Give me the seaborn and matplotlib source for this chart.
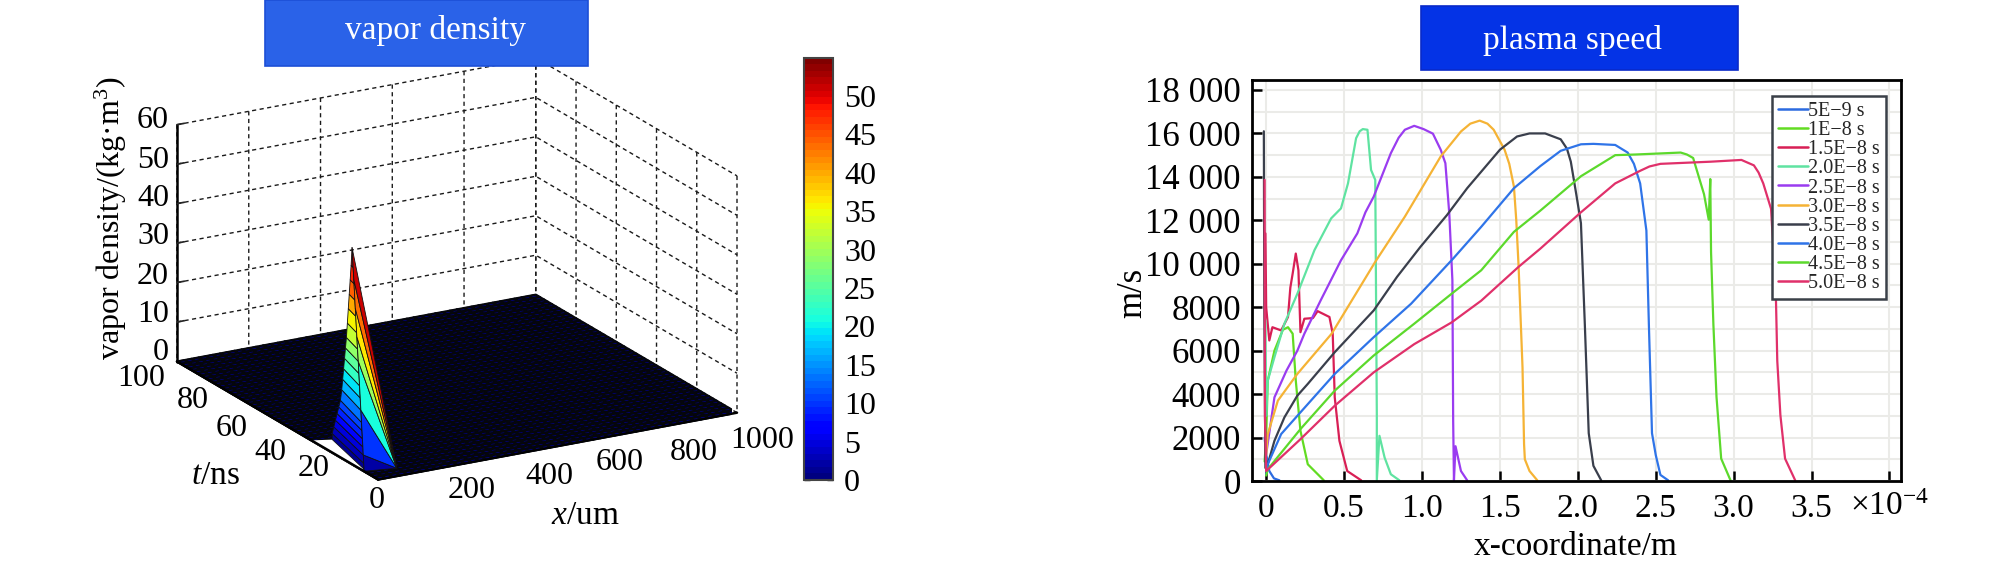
import numpy as np
import pandas as pd
import matplotlib
matplotlib.use('Agg')
import matplotlib.pyplot as plt
import seaborn as sns
from matplotlib.cm import ScalarMappable
from matplotlib.colors import Normalize
from matplotlib.patches import Rectangle
from mpl_toolkits.mplot3d import proj3d
from mpl_toolkits.mplot3d.art3d import Poly3DCollection

W, H = 2008, 566

# left panel: vapor density surface
x_nodes = np.arange(0, 1001, 20)
t_nodes = np.arange(0, 100.1, 2)
x_ticks = [0, 200, 400, 600, 800, 1000]
t_ticks = [0, 20, 40, 60, 80, 100]
z_ticks = [0, 10, 20, 30, 40, 50, 60]
cbar_ticks = [0, 5, 10, 15, 20, 25, 30, 35, 40, 45, 50]

x_tick_labels = ['0', '200', '400', '600', '800', '1000']
t_tick_labels = ['20', '40', '60', '80', '100']
z_tick_labels = ['0', '10', '20', '30', '40', '50', '60']
# where the reference puts those labels, in pixels
x_label_px = [(377, 501), (472, 491), (549, 476), (620, 462), (694, 453), (762, 441)]
t_label_px = [(314, 469), (270, 453), (232, 428), (193, 401), (141, 378)]
z_label_py = [352.5, 315, 277, 237, 198, 160, 120.5]

# left flank of the peak, ridge going up
left_z = [54.9, 50, 46, 42, 38, 34, 30, 27, 24, 21, 18, 15, 12, 10, 8, 6, 4, 2, 0.5]
left_back_t = [13, 14, 15, 16, 17, 18, 19, 20, 21, 22, 23, 24, 25, 26, 27, 28, 29, 30, 30]
left_back_x = [0, 3, 6, 9, 12, 15, 18, 21, 24, 27, 30, 33, 35, 36, 37, 38, 39, 40, 40]
left_front_t = [13, 12.5, 12, 11.6, 11.1, 10.7, 10.3, 9.9, 9.6, 9.3, 9, 8.6, 8.3, 8.1, 7.9, 7.7, 7.4, 7.2, 7]
# right flank, fan down to one floor point
right_z = [54.9, 47, 40, 33, 27, 15, 4, 0]
right_t = [13, 12.1, 11.4, 10.6, 9.9, 8.6, 7.4, 7]
tip_x, tip_t = 80, 5
gap_x = [0, 0, 118]
gap_t = [33, 8, 28]

# right panel: plasma speed, x in 1e-4 m
times = ['5E\u22129 s', '1E\u22128 s', '1.5E\u22128 s', '2.0E\u22128 s', '2.5E\u22128 s',
         '3.0E\u22128 s', '3.5E\u22128 s', '4.0E\u22128 s', '4.5E\u22128 s', '5.0E\u22128 s']
colors = ['#2c6be0', '#62dc22', '#d81f55', '#5fe3a1', '#9a3cf0',
          '#f5b335', '#3a3f4c', '#2f74e8', '#5cd92c', '#e0306a']

x_5e9 = [-0.01, 0, 0.02, 0.05, 0.085]
v_5e9 = [2000, 1230, 460, 120, 30]
x_1e8 = [-0.01, 0, 0.01, 0.053, 0.107, 0.14, 0.17, 0.19, 0.22, 0.267, 0.37]
v_1e8 = [900, 2000, 4620, 6000, 6960, 7080, 6780, 4620, 2310, 770, 30]
x_15e8 = [-0.005, 0.0, 0.02, 0.04, 0.07, 0.096, 0.14, 0.155, 0.17, 0.19, 0.207, 0.22, 0.245, 0.3,
          0.33, 0.406, 0.427, 0.44, 0.47, 0.52, 0.61]
v_15e8 = [11400, 8000, 6470, 7080, 7000, 6930, 7550, 8900, 9550, 10470, 9700, 6850, 7470, 7500,
          7820, 7550, 6780, 3850, 1850, 460, 30]
x_2e8 = [-0.005, 0, 0.01, 0.053, 0.117, 0.2, 0.31, 0.417, 0.48, 0.525, 0.577, 0.6, 0.62, 0.65, 0.673,
         0.7, 0.703, 0.71, 0.71, 0.727, 0.76, 0.8, 0.855]
v_2e8 = [7400, 3000, 4620, 5700, 7240, 8620, 10630, 12090, 12550, 13700, 15780, 16100, 16200, 16170, 14320,
         13860, 10780, 3080, 30, 2080, 1080, 310, 30]
x_25e8 = [0, 0.053, 0.13, 0.2, 0.245, 0.35, 0.48, 0.585, 0.637, 0.69, 0.8, 0.85, 0.89, 0.95, 1.01, 1.07, 1.12,
          1.15, 1.175, 1.195, 1.2, 1.205, 1.215, 1.25, 1.29]
v_25e8 = [1230, 3850, 5080, 6000, 6780, 8320, 10160, 11400, 12370, 13090, 15090, 15800, 16170, 16350, 16200, 15990, 15250,
          14630, 12320, 9240, 2770, 30, 1600, 460, 30]
x_3e8 = [0, 0.01, 0.075, 0.2, 0.42, 0.7, 0.89, 1.12, 1.25, 1.31, 1.37, 1.42, 1.46, 1.53, 1.56, 1.59, 1.605, 1.62,
         1.645, 1.655, 1.66, 1.69, 1.74]
v_3e8 = [1200, 2150, 3700, 4930, 6780, 10090, 12170, 14940, 16090, 16450, 16590, 16450, 16170, 15250, 14600, 13550,
         12000, 9860, 5240, 1700, 1000, 460, 30]
x_35e8 = [-0.015, -0.012, -0.005, 0.01, 0.053, 0.117, 0.2, 0.267, 0.44, 0.69, 0.84, 0.99, 1.16, 1.29, 1.5,
          1.61, 1.69, 1.79, 1.89, 1.93, 1.955, 1.99, 2.02, 2.045, 2.07, 2.10, 2.15]
v_35e8 = [16100, 8000, 600, 770, 1850, 2930, 3930, 4470, 5930, 7850, 9400, 10780, 12240, 13480, 15250,
          15860, 16000, 16000, 15730, 15300, 14700, 13200, 11870, 7200, 2200, 700, 30]
x_4e8 = [0, 0.01, 0.096, 0.2, 0.44, 0.69, 0.93, 1.2, 1.38, 1.59, 1.76, 1.89, 2.02, 2.1, 2.24, 2.32, 2.36, 2.4,
         2.44, 2.456, 2.476, 2.5, 2.53, 2.58]
v_4e8 = [300, 770, 2160, 3000, 4930, 6620, 8160, 10240, 11700, 13480, 14500, 15200, 15500, 15520, 15470, 15120, 14600,
         13700, 11530, 7200, 2200, 1200, 280, 30]
x_45e8 = [0, 0.01, 0.22, 0.44, 0.69, 0.95, 1.19, 1.38, 1.59, 1.76, 2.02, 2.24, 2.37, 2.66, 2.7, 2.74, 2.81,
          2.84, 2.85, 2.855, 2.87, 2.89, 2.92, 2.98]
v_45e8 = [250, 540, 2390, 4160, 5775, 7240, 8620, 9700, 11470, 12450, 14030, 15000, 15030, 15120, 15030, 14870, 13200,
          12030, 13900, 10530, 7200, 3870, 1030, 30]
x_5e8 = [-0.01, -0.008, 0, 0.22, 0.44, 0.69, 0.95, 1.19, 1.38, 1.62, 1.76, 2.02, 2.24, 2.4, 2.46, 2.53, 2.855,
         3.05, 3.13, 3.16, 3.19, 3.24, 3.27, 3.28, 3.3, 3.33, 3.395]
v_5e8 = [13860, 3000, 460, 1925, 3465, 5000, 6300, 7300, 8300, 9860, 10700, 12370, 13700, 14280, 14480, 14600, 14700,
         14780, 14530, 14200, 13700, 12530, 8870, 5530, 3030, 1030, 30]
xs = [x_5e9, x_1e8, x_15e8, x_2e8, x_25e8, x_3e8, x_35e8, x_4e8, x_45e8, x_5e8]
vs = [v_5e9, v_1e8, v_15e8, v_2e8, v_25e8, v_3e8, v_35e8, v_4e8, v_45e8, v_5e8]

speed_ticks = list(range(0, 18001, 2000))
speed_labels = ['0', '2000', '4000', '6000', '8000', '10 000', '12 000', '14 000', '16 000', '18 000']
pos_ticks = [0, 0.5, 1, 1.5, 2, 2.5, 3, 3.5, 4]
pos_labels = ['0', '0.5', '1.0', '1.5', '2.0', '2.5', '3.0', '3.5', '']

sns.set_theme(style='white')
plt.rcParams['font.family'] = ['Liberation Serif', 'DejaVu Serif']
plt.rcParams['mathtext.fontset'] = 'custom'
plt.rcParams['mathtext.rm'] = 'Liberation Serif'
plt.rcParams['mathtext.it'] = 'Liberation Serif:italic'
plt.rcParams['axes3d.grid'] = True


def px_rect(x0, y0, x1, y1):
    # pixel box (y from top) to figure fractions
    return [x0 / W, 1 - y1 / H, (x1 - x0) / W, (y1 - y0) / H]


def px_text(x, y, s, **kw):
    kw.setdefault('ha', 'center')
    fig.text(x / W, 1 - y / H, s, va='center', color=kw.pop('color', 'black'), **kw)


fig = plt.figure(figsize=(W / 100, H / 100), dpi=100)
jet = plt.get_cmap('jet', 64)
norm = Normalize(0, 55)

# ---- 3D surface ----
ax3 = fig.add_axes(px_rect(0, 0, H, H), projection='3d', computed_zorder=False)
ax3.set_proj_type('ortho')
ax3.view_init(elev=19.3, azim=-119.4)
aspect = (412, 410, 251)
ax3.set_box_aspect(aspect, zoom=1.0)
ax3.set_xlim(0, 1000, view_margin=0)
ax3.set_ylim(0, 100, view_margin=0)
ax3.set_zlim(0, 60, view_margin=0)

X, T = np.meshgrid(x_nodes, t_nodes)
ax3.plot_surface(X, T, np.zeros_like(X, dtype=float), cmap=jet, norm=norm, rstride=1, cstride=1,
                 edgecolor='#05060c', linewidth=1.6, shade=False, zorder=1)
ax3.add_collection3d(Poly3DCollection([list(zip(gap_x, gap_t, [0, 0, 0]))], facecolor='white',
                                      edgecolor='white', zorder=2))


def band_colors(levels):
    # one colour per strip, from the strip's height on the ridge
    mid = (np.array(levels[:-1]) + np.array(levels[1:])) / 2
    return jet(norm(mid))[:, None, :]


left_X = np.column_stack([left_back_x, np.zeros(len(left_z))])
left_T = np.column_stack([left_back_t, left_front_t])
left_Z = np.column_stack([left_z, left_z])
ax3.plot_surface(left_X, left_T, left_Z, facecolors=band_colors(left_z), rstride=1, cstride=1,
                 edgecolor='#111111', linewidth=0.6, shade=False, zorder=3)
right_X = np.column_stack([np.zeros(len(right_z)), np.full(len(right_z), tip_x)])
right_T = np.column_stack([right_t, np.full(len(right_z), tip_t)])
right_Z = np.column_stack([right_z, np.zeros(len(right_z))])
ax3.plot_surface(right_X, right_T, right_Z, facecolors=band_colors(right_z), rstride=1, cstride=1,
                 edgecolor='#111111', linewidth=0.6, shade=False, zorder=4)
ax3.plot([0, 0], [100, 0], [0, 0], color='black', lw=1.8, zorder=5)
ax3.plot([0, 1000], [0, 0], [0, 0], color='black', lw=1.0, zorder=5)

ax3.set_xticks(x_ticks)
ax3.set_yticks(t_ticks)
ax3.set_zticks(z_ticks)
ax3.set_xticklabels([])
ax3.set_yticklabels([])
ax3.set_zticklabels([])
for axis in (ax3.xaxis, ax3.yaxis, ax3.zaxis):
    axis.set_pane_color((1, 1, 1, 1))
    axis.pane.set_edgecolor('white')
    axis.line.set_color('black')
    axis.line.set_linewidth(1.8)
    axis._axinfo['grid'].update(color='#1a1a1a', linewidth=1.0, linestyle=(0, (3, 2.5)))
    axis._axinfo['tick'].update(inward_factor=0.0, outward_factor=0.0)
ax3.zaxis._axinfo['tick'].update(inward_factor=0.0, outward_factor=0.25)


def corner_px(p):
    x2, y2, _ = proj3d.proj_transform(p[0], p[1], p[2], ax3.get_proj())
    return ax3.transData.transform((x2, y2))


# fit the box onto the reference corners
fig.canvas.draw()
span = corner_px((1000, 0, 0))[0] - corner_px((0, 100, 0))[0]
ax3.set_box_aspect(aspect, zoom=560 / span)
fig.canvas.draw()
a = corner_px((0, 100, 0))
dx, dy = 177 - a[0], (H - 361.5) - a[1]
pos = ax3.get_position(original=True)
ax3.set_position([pos.x0 + dx / W, pos.y0 + dy / H, pos.width, pos.height])

for (px, py), s in zip(x_label_px, x_tick_labels):
    px_text(px, py, s, fontsize=23)
for (px, py), s in zip(t_label_px, t_tick_labels):
    px_text(px, py, s, fontsize=23)
for py, s in zip(z_label_py, z_tick_labels):
    px_text(169, py, s, fontsize=23, ha='right')

px_text(111, 218, 'vapor density/(kg\u00b7m$^{3}$)', rotation=90, fontsize=23)
px_text(215, 476, '$\\mathit{t}$/ns', fontsize=24)
px_text(585, 516, '$\\mathit{x}$/um', fontsize=24)

# colorbar
cax = fig.add_axes(px_rect(804.5, 57.5, 833, 480))
cb = fig.colorbar(ScalarMappable(norm=norm, cmap=jet), cax=cax, ticks=cbar_ticks)
cb.ax.tick_params(labelsize=23, direction='in', length=4, width=1, left=True, right=True, pad=8,
                  colors='black')
cb.outline.set_edgecolor('#444444')
cb.outline.set_linewidth(1.5)

# ---- plasma speed ----
ax = fig.add_axes(px_rect(1252, 80, 1901, 481))
df = pd.concat([pd.DataFrame({'x': x, 'v': v, 'time': name}) for x, v, name in zip(xs, vs, times)])
sns.lineplot(data=df, x='x', y='v', hue='time', hue_order=times, palette=colors, sort=False,
             estimator=None, linewidth=1.6, ax=ax)
ax.set_xlim(-0.091, 4.074)
ax.set_ylim(0, 18460)
ax.set_xticks(pos_ticks)
ax.set_xticklabels(pos_labels)
ax.set_yticks(speed_ticks)
ax.set_yticklabels(speed_labels)
ax.set_yticks(list(range(1000, 18000, 2000)), minor=True)
ax.tick_params(axis='both', which='major', direction='in', length=7, width=1.8,
               left=True, bottom=True, colors='black')
ax.tick_params(axis='x', pad=9, labelsize=24)
ax.tick_params(axis='y', pad=8, labelsize=25)
ax.tick_params(axis='y', which='minor', length=0)
ax.grid(True, which='both', color='#ebebe8', linewidth=1.5)
ax.set_axisbelow(True)
for s in ax.spines.values():
    s.set_color('black')
    s.set_linewidth(2.0)
ax.set_xlabel('x-coordinate/m', fontsize=24, va='center', color='black')
ax.xaxis.set_label_coords(0.4992, -0.165)
ax.set_ylabel('m/s', fontsize=25, va='center', color='black')
ax.yaxis.set_label_coords(-0.183, 0.47)
px_text(1890, 507, '\u00d710$^{-4}$', fontsize=24)

leg = ax.legend(loc='upper left', bbox_to_anchor=((1772 - 1252) / 649, 1 - (96 - 80) / 401), borderaxespad=0,
                fontsize=14.5, frameon=True, fancybox=False, edgecolor='#3a4048', framealpha=1,
                handlelength=1.5, handletextpad=0.0, labelspacing=0.0, borderpad=0.3, title=None)
leg.get_frame().set_linewidth(1.8)
for h in leg.get_lines():
    h.set_linewidth(1.8)

# title boxes
for (x0, y0, x1, y1), fc, ec, label, cx, cy in [
        ((265, 0, 588, 66), '#2a62e8', '#1c4fd6', 'vapor density', 436, 31),
        ((1421, 6.5, 1737.5, 70), '#0433e6', '#0a2ac8', 'plasma speed', 1572, 41)]:
    fig.add_artist(Rectangle((x0 / W, 1 - y1 / H), (x1 - x0) / W, (y1 - y0) / H, transform=fig.transFigure,
                             facecolor=fc, edgecolor=ec, linewidth=1.2, zorder=5))
    px_text(cx, cy, label, color='white', fontsize=24, zorder=6)

fig.savefig('out.png', dpi=100)
